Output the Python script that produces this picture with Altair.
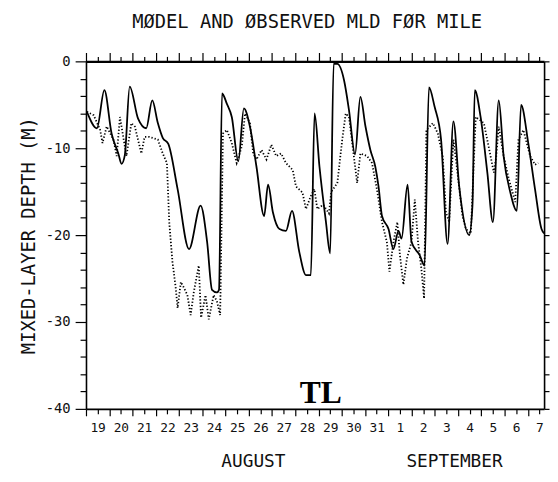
import json
import altair as alt
import pandas as pd

# ---- data ----
model_day = [0.04, 0.47, 0.79, 1.1, 1.39, 1.53, 1.67, 1.88, 2.24, 2.59, 2.85, 3.09, 3.3, 3.54,
             3.94, 4.43, 4.93, 5.21, 5.42, 5.63, 5.72, 5.85, 6.06, 6.27, 6.55, 6.79, 7.05, 7.33,
             7.66, 7.83, 8.04, 8.32, 8.6, 8.86, 9.17, 9.46, 9.67, 9.83, 10.04, 10.32, 10.5, 10.65,
             10.81, 11.1, 11.31, 11.57, 11.8, 12.02, 12.23, 12.44, 12.58, 12.73, 13.01, 13.22,
             13.44, 13.57, 13.83, 14.0, 14.35, 14.56, 14.75, 14.99, 15.27, 15.55, 15.8, 16.05,
             16.48, 16.62, 16.72, 16.97, 17.26, 17.5, 17.75, 17.96, 18.25, 18.53, 18.71, 19.02,
             19.31, 19.59, 19.7]
model_depth = [-5.8, -7.7, -3.3, -8.3, -10.6, -11.8, -10.8, -2.9, -6.6, -7.7, -4.5, -7.1, -8.8, -9.5,
               -14.7, -21.6, -16.6, -20.8, -26.3, -26.6, -26.3, -3.7, -4.9, -6.4, -11.5, -5.4, -7.5, -12.1,
               -17.8, -14.2, -17.4, -19.3, -19.5, -17.2, -21.9, -24.6, -24.6, -6.0, -12.1, -18.5, -22.1, -0.3,
               -0.3, -2.2, -5.6, -10.7, -4.1, -7.5, -10.2, -12.1, -14.4, -17.8, -19.3, -21.6,
               -19.5, -20.4, -14.2, -20.8, -22.3, -23.5, -3.0, -5.2, -9.0, -21.0, -6.9, -14.4,
               -20.0, -16.6, -3.3, -6.4, -12.8, -18.5, -4.5, -10.9, -15.1, -17.2, -5.0, -9.4,
               -14.7, -19.3, -19.8]

obs_day = [0.04, 0.33, 0.61, 0.71, 0.89, 1.18, 1.32, 1.46, 1.74, 1.95, 2.1, 2.38, 2.52, 2.73, 3.09,
           3.3, 3.48, 3.58, 3.72, 3.86, 3.94, 4.08, 4.22, 4.36, 4.5, 4.64, 4.85, 4.95, 5.14, 5.28,
           5.49, 5.63, 5.77, 5.89, 6.06, 6.27, 6.48, 6.7, 6.84, 7.05, 7.19, 7.33, 7.55, 7.76, 7.97,
           8.18, 8.39, 8.6, 8.89, 9.03, 9.31, 9.46, 9.67, 9.82, 9.95, 10.2, 10.45, 10.55, 10.81,
           11.02, 11.17, 11.31, 11.45, 11.66, 11.8, 12.09, 12.3, 12.51, 12.73, 12.94, 13.05, 13.22,
           13.39, 13.5, 13.65, 13.8, 14.0, 14.14, 14.28, 14.42, 14.54, 14.64, 14.92, 15.13, 15.34,
           15.48, 15.62, 15.8, 15.91, 16.19, 16.34, 16.55, 16.76, 17.11, 17.33, 17.54, 17.64, 17.75,
           17.96, 18.18, 18.46, 18.6, 18.81, 19.1, 19.31, 19.45]
obs_depth = [-5.8, -6.2, -7.9, -9.4, -7.5, -9.0, -10.9, -6.4, -10.9, -7.1, -7.5, -10.6, -8.7, -8.7, -9.0,
             -10.6, -11.7, -18.5, -23.1, -26.1, -28.4, -25.4, -26.1, -26.9, -29.2, -26.5, -23.5, -29.5, -26.9, -29.7,
             -26.9, -27.6, -29.2, -8.3, -7.9, -9.4, -11.7, -9.8, -6.0, -7.1, -10.6, -11.3, -10.2, -11.3, -9.6,
             -10.9, -10.6, -11.7, -12.5, -14.4, -15.1, -17.0, -15.5, -14.7, -17.0, -16.5, -17.5, -15.0, -14.0,
             -9.0, -6.0, -6.4, -9.4, -14.0, -10.6, -10.9, -11.7, -14.7, -18.5, -20.8, -24.2, -20.8,
             -18.5, -22.3, -25.7, -22.7, -20.8, -15.9, -20.8, -23.8, -27.3, -7.9, -7.1, -8.3, -10.9,
             -17.4, -18.5, -9.0, -11.3, -17.8, -19.3, -19.8, -6.4, -7.1, -10.0, -12.8, -11.0, -7.5,
             -10.9, -13.5, -16.2, -9.0, -7.9, -10.9, -11.9, -11.7]

day_labels = ["19", "20", "21", "22", "23", "24", "25", "26", "27", "28", "29", "30", "31",
              "1", "2", "3", "4", "5", "6", "7"]
month_names = ["AUGUST", "SEPTEMBER"]
month_day = [7.2, 15.85]
note_text = ["TL"]
note_day = [10.1]
note_depth = [-39.3]

title_text = ["MØDEL AND ØBSERVED MLD FØR MILE"]
y_title = "MIXED-LAYER DEPTH  (M)"

# ---- build ----
W, H = 464, 352
FONT = "DejaVu Sans Mono"

model = pd.DataFrame({"day": model_day, "depth": model_depth})
observed = pd.DataFrame({"day": obs_day, "depth": obs_depth})
months = pd.DataFrame({"day": month_day, "label": month_names})
notes = pd.DataFrame({"day": note_day, "depth": note_depth, "label": note_text})
titles = pd.DataFrame({"label": title_text})

x_vals = [i * 0.5 for i in range(2 * len(day_labels))]
y_vals = list(range(-40, 1, 2))

xscale = alt.Scale(domain=[0, 19.7], nice=False, zero=False)
yscale = alt.Scale(domain=[-40, 0], nice=False, zero=False)

x_label_expr = ("floor(datum.value) != datum.value ? " + json.dumps(day_labels)
                + "[floor(datum.value)] : ''")

bottom_axis = alt.Axis(
    orient="bottom", values=x_vals, labelExpr=x_label_expr, title=None, grid=False,
    labelOverlap=False, labelFlush=False, labelFont=FONT, labelFontSize=13, labelColor="#111",
    tickColor="black", tickWidth=1.2,
    tickSize={"condition": {"test": "floor(datum.value) == datum.value", "value": 7}, "value": 5},
    labelPadding=8, domainColor="black", domainWidth=1.6,
)
left_axis = alt.Axis(
    orient="left", values=y_vals,
    labelExpr="datum.value % 10 == 0 ? '' + datum.value : ''",
    title=y_title, titleFont=FONT, titleFontSize=19, titleFontWeight="normal", titleColor="#111",
    titleX=-58, titleY=H / 2, titleAngle=-90, titleAlign="center", titleBaseline="middle",
    grid=False, labelOverlap=False, labelFont=FONT, labelFontSize=14, labelColor="#111",
    tickColor="black", tickWidth=1.2,
    tickSize={"condition": {"test": "datum.value % 10 == 0", "value": 11}, "value": 6},
    labelPadding=5, domainColor="black", domainWidth=1.6,
)
top_axis = alt.Axis(
    orient="top", values=x_vals, labels=False, title=None, grid=False,
    tickColor="black", tickWidth=1.2,
    tickSize={"condition": {"test": "floor(datum.value) == datum.value", "value": 9}, "value": 5},
    domainColor="black", domainWidth=2.2,
)
right_axis = alt.Axis(
    orient="right", values=y_vals, labels=False, title=None, grid=False,
    tickColor="black", tickWidth=1.2, tickSize=5, domainColor="black", domainWidth=1.6,
)

model_line = alt.Chart(model).mark_line(
    color="black", strokeWidth=1.8, interpolate="monotone", clip=True
).encode(
    x=alt.X("day:Q", scale=xscale, axis=bottom_axis),
    y=alt.Y("depth:Q", scale=yscale, axis=left_axis),
)

obs_line = alt.Chart(observed).mark_line(
    color="black", strokeWidth=1.8, strokeDash=[1.3, 2.0], clip=True
).encode(
    x=alt.X("day:Q", scale=xscale, axis=top_axis),
    y=alt.Y("depth:Q", scale=yscale, axis=right_axis),
)

month_text = alt.Chart(months).mark_text(
    font=FONT, fontSize=18, color="#111", baseline="middle", align="center"
).encode(
    x=alt.X("day:Q", scale=xscale, axis=None),
    y=alt.value(H + 54),
    text="label:N",
)

note = alt.Chart(notes).mark_text(
    font="Liberation Serif", fontSize=32, fontWeight="bold", color="black",
    baseline="alphabetic", align="center"
).encode(
    x=alt.X("day:Q", scale=xscale, axis=None),
    y=alt.Y("depth:Q", scale=yscale, axis=None),
    text="label:N",
)

title = alt.Chart(titles).mark_text(
    font=FONT, fontSize=19, color="#111", baseline="middle", align="center"
).encode(
    x=alt.value(W / 2 - 8),
    y=alt.value(-40),
    text="label:N",
)

chart = alt.layer(model_line, obs_line, month_text, note, title).resolve_axis(
    x="independent", y="independent"
).properties(
    width=W, height=H,
    autosize=alt.AutoSizeParams(type="none"),
    padding={"left": 79, "top": 51, "right": 6, "bottom": 70},
).configure_view(stroke=None).configure(background="white")

chart.save("out.html", embed_options={"renderer": "svg", "actions": False})
